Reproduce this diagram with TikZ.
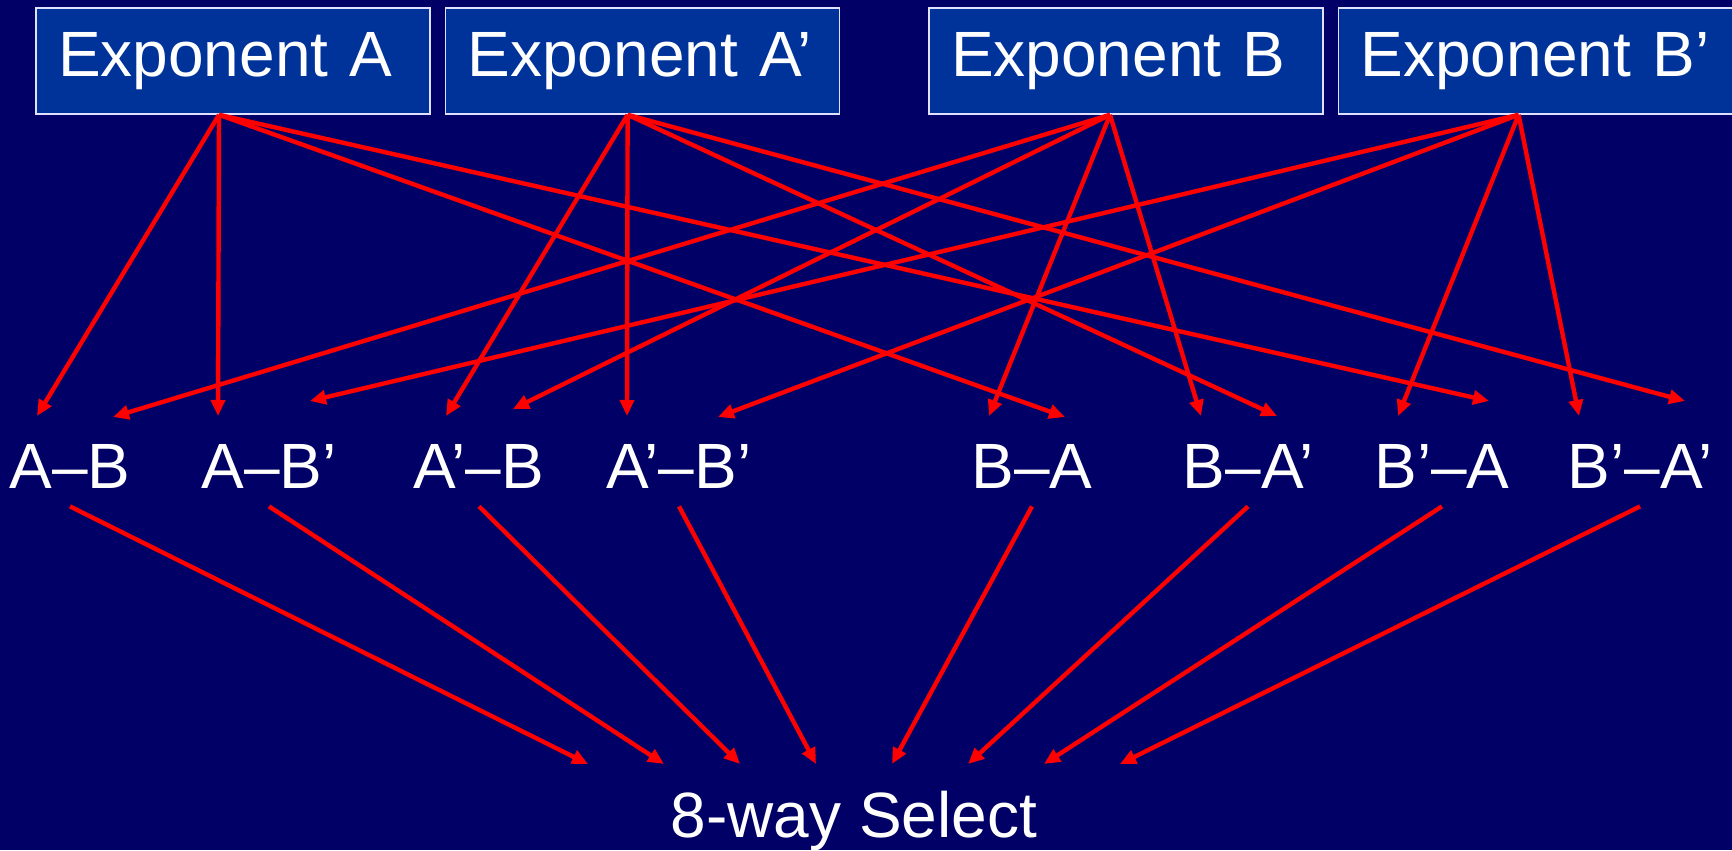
\documentclass[tikz,border=0pt]{standalone}
\usepackage{fontspec}
\setmainfont{Liberation Sans}
\usetikzlibrary{positioning, arrows.meta, calc}
\definecolor{slidebg}{HTML}{000066}
\definecolor{boxblue}{HTML}{003399}
\tikzset{
    expbox/.style={draw=white!88!blue, fill=boxblue, line width=0.8pt, minimum width=197pt, minimum height=53pt, inner xsep=11pt, text width=175pt, align=left},
    pairtext/.style={anchor=base, inner xsep=0pt, inner ysep=9pt},
    wire/.style={draw=red, line width=2.2pt, ->},
}

\begin{document}
\begin{tikzpicture}[
    x=0.5pt, y=-0.5pt,
    >={Triangle[length=8pt, width=7pt]},
    every node/.style={font=\fontsize{32}{38}\selectfont, text=white},
]
\useasboundingbox (0,0) rectangle (1732,850);
\fill[slidebg] (0,0) rectangle (1732,850);

% exponent boxes
\node[expbox] (ea) at (233,61) {Exponent A};
\node[expbox, right=7pt of ea] (eap) {Exponent A’};
\node[expbox] (eb) at (1126,61) {Exponent B};
\node[expbox, right=7pt of eb] (ebp) {Exponent B’};

% pairings
\node[pairtext] (ab) at (70,488) {A\textendash B};
\node[pairtext] (abp) at (269,488) {A\textendash B’};
\node[pairtext] (apb) at (479,488) {A’\textendash B};
\node[pairtext] (apbp) at (679,488) {A’\textendash B’};
\node[pairtext] (ba) at (1032,488) {B\textendash A};
\node[pairtext] (bap) at (1248,488) {B\textendash A’};
\node[pairtext] (bpa) at (1442,488) {B’\textendash A};
\node[pairtext] (bpap) at (1640,488) {B’\textendash A’};
\node[pairtext] (sel) at (854,837) {8-way Select};

% exponent A
\draw[wire] ([xshift=-7pt]ea.south) -- ($(ab.base)+(-33,-72)$);
\draw[wire] ([xshift=-7pt]ea.south) -- ($(abp.base)+(-51,-72)$);
\draw[wire] ([xshift=-7pt]ea.south) -- ($(ba.base)+(33,-71)$);
\draw[wire] ([xshift=-7pt]ea.south) -- ($(bpa.base)+(47,-87)$);
% exponent A'
\draw[wire] ([xshift=-7.5pt]eap.south) -- ($(apb.base)+(-33,-72)$);
\draw[wire] ([xshift=-7.5pt]eap.south) -- ($(apbp.base)+(-52,-72)$);
\draw[wire] ([xshift=-7.5pt]eap.south) -- ($(bap.base)+(29,-72)$);
\draw[wire] ([xshift=-7.5pt]eap.south) -- ($(bpap.base)+(45,-87)$);
% exponent B
\draw[wire] ([xshift=-8pt]eb.south) -- ($(ab.base)+(43,-71)$);
\draw[wire] ([xshift=-8pt]eb.south) -- ($(apb.base)+(34,-79)$);
\draw[wire] ([xshift=-8pt]eb.south) -- ($(ba.base)+(-43,-72)$);
\draw[wire] ([xshift=-8pt]eb.south) -- ($(bap.base)+(-47,-72)$);
% exponent B'
\draw[wire] ([xshift=-8.5pt]ebp.south) -- ($(abp.base)+(41,-87)$);
\draw[wire] ([xshift=-8.5pt]ebp.south) -- ($(apbp.base)+(39,-71)$);
\draw[wire] ([xshift=-8.5pt]ebp.south) -- ($(bpa.base)+(-44,-72)$);
\draw[wire] ([xshift=-8.5pt]ebp.south) -- ($(bpap.base)+(-61,-72)$);

% into the select
\foreach \p [count=\i] in {ab, abp, apb, apbp, ba, bap, bpa, bpap}
    \draw[wire] (\p.south) -- ($(sel.base)+(-342+76*\i,-73)$);
\end{tikzpicture}
\end{document}
